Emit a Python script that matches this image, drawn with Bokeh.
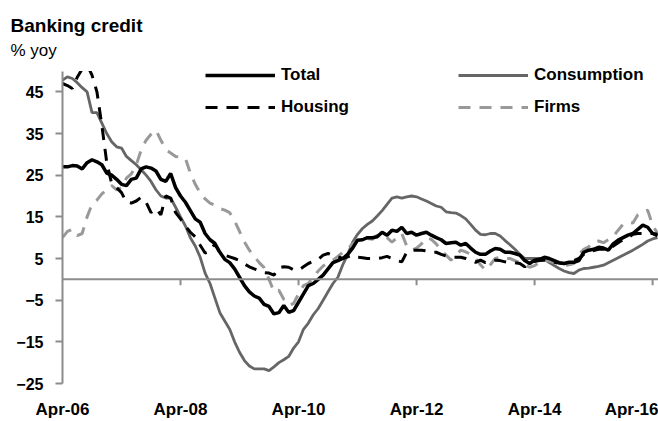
from bokeh.plotting import figure
from bokeh.models import (Range1d, FixedTicker, Span, Legend, LegendItem, Title,
                          BoxAnnotation, ColumnDataSource)
from bokeh.embed import file_html
from bokeh.resources import INLINE

# Monthly data, Apr-06 .. May-16 (% yoy)
total = [27, 27, 27.3, 27.2, 26.5, 28, 28.7, 28.2, 27.5, 25.5, 25, 24, 22.8, 22.5, 24, 24.3,
         26.5, 27, 26.7, 26, 24, 23.5, 25.4, 22, 20, 18.5, 16.5, 14.5, 13.7, 11, 9.5, 8.6,
         6.5, 4.8, 4, 2.5, 0.5, -1.5, -3, -4, -4.5, -6, -6.5, -8.3, -8, -6.3, -7.9, -7.5,
         -5.5, -3.5, -1.5, -1, 0, 1, 2.5, 4, 4.5, 5, 6, 7.5, 9.4, 9.5, 10, 10,
         10.2, 11.3, 10.6, 11.8, 11.5, 12.5, 11, 11.3, 10.6, 11, 11.3, 10.6, 10, 9.5, 8.6, 8.8,
         8.9, 8.2, 8.6, 7.5, 6.5, 6, 6, 6.8, 7.4, 7.2, 6.5, 6.5, 6.2, 5.8, 4.5, 3.8,
         4.6, 4.8, 5.3, 5, 4.5, 4, 3.8, 4.1, 4.1, 4.5, 6.5, 7, 7.2, 7.7, 7.5, 7,
         8.5, 9.4, 10, 10.6, 11, 12, 13, 12.5, 11, 10.5]
consumption = [47.8, 48.6, 48.2, 47.2, 46, 45, 40, 40, 37.5, 35, 33, 31.8, 31.5, 29.5, 28.5, 27.5,
               26.3, 25, 23.5, 21.5, 20, 19.5, 19.5, 17.3, 15, 12.8, 10, 8, 5.3, 1.5, -1, -4.5,
               -8, -10, -12, -15, -17.5, -19.5, -20.8, -21.5, -21.5, -21.5, -21.9, -21, -20, -19.3, -18.5, -16.5,
               -15, -12, -10.5, -8.5, -7, -5, -3, -1, 0.5, 3.5, 6, 8.9, 10.8, 12.2, 13.2, 14,
               15.2, 16.5, 18, 19.5, 19.8, 19.5, 19.8, 20, 19.8, 19.3, 18.8, 18.2, 17.6, 17.3, 16.2, 16,
               15.9, 15.3, 14.5, 13.2, 11.8, 10.8, 10.7, 11, 11, 10.4, 9.3, 8.3, 7.2, 6, 5, 5,
               5, 5, 4.8, 4, 3.3, 2.6, 2, 1.6, 1.4, 2.2, 2.6, 2.7, 2.9, 3.1, 3.4, 4,
               4.6, 5.2, 5.8, 6.4, 7, 7.7, 8.4, 9.2, 9.7, 10]
housing = [47, 46.5, 45.8, 48.5, 50.5, 51.5, 49, 45, 37, 28, 23, 22, 20.8, 18.5, 18.3, 18.8,
           19.7, 18.5, 16, 17, 15.5, 20, 19.5, 16, 14.5, 12.8, 11.3, 10.2, 8.2, 6.3, 6.8, 8.5,
           6.3, 5.8, 5.4, 5, 4.5, 3.7, 3, 2.5, 2.1, 1.6, 1.5, 1, 2.8, 3, 2.9, 2.3,
           2.2, 3, 3.8, 4.3, 4.8, 5.8, 6.2, 5.8, 5.4, 5, 5.4, 5.8, 5.3, 5.2, 5, 5,
           5, 5.2, 5.5, 5, 4.5, 4.2, 6.5, 7, 7, 7, 6.8, 6.5, 6.5, 6, 5.6, 5.3,
           5.3, 5.3, 5, 4.6, 4.1, 4.6, 4, 4.3, 4.6, 4.5, 4.2, 4, 4, 3.8, 3, 4,
           4.3, 4.5, 4.6, 4.4, 4.1, 3.9, 3.8, 4, 4.5, 5, 6, 6.6, 6.9, 7.2, 7.2, 7,
           8, 8.8, 9.5, 10, 10.8, 11, 11, 11, 11, 10.8]
firms = [10, 11.5, 12, 10.5, 11, 15, 18, 19, 20.5, 21.5, 22.5, 21.5, 22, 24.3, 25.3, 27.5,
         31, 33.4, 34.8, 35.8, 33.4, 31.2, 30.3, 29.5, 29.3, 29, 25.5, 22.8, 20.7, 19.3, 18.3, 17.8,
         17, 16.6, 16, 14, 11.5, 9, 7, 5.5, 4, 2.8, 0, -3, -2.6, -4.8, -6.2, -5.8,
         -3.5, -1.5, -1, 0.5, 2, 3.2, 4, 4.6, 5.5, 6.5, 7.3, 8.5, 9.4, 9.8, 9.8, 9.6,
         10.6, 10.3, 10, 8.9, 10, 11, 8, 7, 7.5, 8.5, 10, 9.6, 8.5, 7, 5.8, 4.6,
         5.8, 7, 6.6, 6, 5, 3.5, 2.2, 3.5, 5, 5.3, 5, 5, 4.5, 4, 3.5, 2.9,
         3.3, 4, 4.6, 4.4, 4, 3.6, 3.3, 3.5, 3.8, 6, 7.2, 7.8, 9, 9.2, 8.8, 9.5,
         10.3, 11.8, 13.2, 13.7, 13.5, 15.5, 16.3, 16.6, 13, 11]

tick_months = [0, 24, 48, 72, 96, 120]
tick_labels = ["Apr-06", "Apr-08", "Apr-10", "Apr-12", "Apr-14", "Apr-16"]
y_ticks = [-25, -15, -5, 5, 15, 25, 35, 45]

months = list(range(len(total)))
src = ColumnDataSource(dict(m=months, total=total, consumption=consumption,
                            housing=housing, firms=firms))

FONT = "Liberation Sans"
AXIS_GRAY = "#8c8c8c"

p = figure(width=658, height=421, output_backend="svg", toolbar_location=None,
           x_range=Range1d(0, 121.2), y_range=Range1d(-25, 53),
           min_border_left=62, min_border_right=0, min_border_top=58, min_border_bottom=38)
p.outline_line_color = None
p.grid.visible = False

# y axis
p.yaxis.ticker = FixedTicker(ticks=y_ticks)
p.yaxis.bounds = (-25, 50)
p.yaxis.axis_line_color = AXIS_GRAY
p.yaxis.axis_line_width = 2
p.yaxis.major_tick_line_color = AXIS_GRAY
p.yaxis.major_tick_line_width = 2
p.yaxis.major_tick_out = 7
p.yaxis.major_tick_in = 0
p.yaxis.minor_tick_line_color = None
p.yaxis.major_label_standoff = 12
p.yaxis.major_label_text_font = FONT
p.yaxis.major_label_text_font_style = "bold"
p.yaxis.major_label_text_font_size = "16px"
p.yaxis.major_label_text_color = "black"

# x axis (labels only at the bottom)
p.xaxis.ticker = FixedTicker(ticks=tick_months)
p.xaxis.major_label_overrides = {m: l for m, l in zip(tick_months, tick_labels)}
p.xaxis.axis_line_color = None
p.xaxis.major_tick_line_color = None
p.xaxis.minor_tick_line_color = None
p.xaxis.major_tick_out = 0
p.xaxis.major_tick_in = 0
p.xaxis.major_label_standoff = 16
p.xaxis.major_label_text_font = FONT
p.xaxis.major_label_text_font_style = "bold"
p.xaxis.major_label_text_font_size = "17px"
p.xaxis.major_label_text_color = "black"

# zero line with ticks
p.add_layout(Span(location=0, dimension="width", line_color=AXIS_GRAY, line_width=2))
p.segment(x0=tick_months[1:], y0=[0] * 5, x1=tick_months[1:], y1=[-1.4] * 5,
          line_color=AXIS_GRAY, line_width=2)

r_cons = p.line("m", "consumption", source=src, line_color="#666666", line_width=2.8)
r_firms = p.line("m", "firms", source=src, line_color="#999999", line_width=3,
                 line_dash="12 9")
r_hous = p.line("m", "housing", source=src, line_color="black", line_width=3,
                line_dash="12 9")
r_total = p.line("m", "total", source=src, line_color="black", line_width=3.5)

# plot area ends at 50: hide anything drawn above it
p.add_layout(BoxAnnotation(bottom=50, fill_color="white", fill_alpha=1, line_alpha=0))

def make_legend(items, x, y):
    lg = Legend(items=items, location=(x, y), padding=0, margin=0, spacing=12,
                glyph_width=70, glyph_height=20, label_height=20, label_standoff=6,
                border_line_color=None, background_fill_alpha=0,
                label_text_font=FONT, label_text_font_style="bold",
                label_text_font_size="17px", label_text_color="black")
    p.add_layout(lg)

make_legend([LegendItem(label="Total", renderers=[r_total]),
             LegendItem(label="Housing", renderers=[r_hous])], 143, 266)
make_legend([LegendItem(label="Consumption", renderers=[r_cons]),
             LegendItem(label="Firms", renderers=[r_firms])], 396, 266)

p.title.text = "Banking credit"
p.title.align = "left"
p.title.offset = -52
p.title.standoff = 7
p.title.text_font = FONT
p.title.text_font_style = "bold"
p.title.text_font_size = "19px"
p.title.text_color = "black"
p.add_layout(Title(text="% yoy", align="left", offset=-52, standoff=-2,
                   text_font=FONT, text_font_style="normal", text_font_size="17px",
                   text_color="black"), "above")

open("out.html", "w").write(file_html(p, INLINE))
